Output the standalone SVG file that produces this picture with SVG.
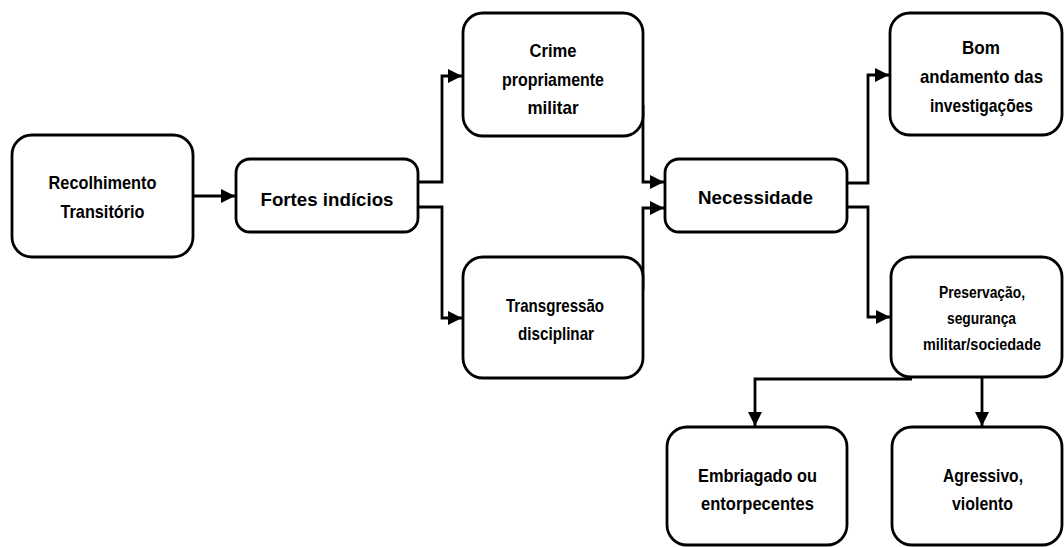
<svg xmlns="http://www.w3.org/2000/svg" width="1064" height="547" viewBox="0 0 1064 547">
<style>
.box{fill:#fff;stroke:#000;stroke-width:2.8}
.t{font-family:"Liberation Sans",Arial,sans-serif;font-weight:bold;font-size:19px;fill:#000;text-anchor:middle}
.s{font-size:16px}
.c{fill:none;stroke:#000;stroke-width:2.8}
</style>
<defs>
<marker id="ah" viewBox="0 0 14 14" refX="14" refY="7" markerWidth="14" markerHeight="14" markerUnits="userSpaceOnUse" orient="auto">
<path d="M0,0 L14,7 L0,14 Z" fill="#000"/>
</marker>
</defs>
<rect width="1064" height="547" fill="#fff"/>
<g id="connectors">
<path class="c" d="M193,196 H235" marker-end="url(#ah)"/>
<path class="c" d="M418,182 H442 V76 H462" marker-end="url(#ah)"/>
<path class="c" d="M418,207 H442 V318 H462" marker-end="url(#ah)"/>
<path class="c" d="M643,105 V182 H664" marker-end="url(#ah)"/>
<path class="c" d="M643,290 V208 H664" marker-end="url(#ah)"/>
<path class="c" d="M847,183 H868 V75 H889" marker-end="url(#ah)"/>
<path class="c" d="M847,207 H868 V317 H890" marker-end="url(#ah)"/>
<path class="c" d="M912,379 H755 V426" marker-end="url(#ah)"/>
<path class="c" d="M982,377 V426" marker-end="url(#ah)"/>
</g>
<g id="recolhimento">
<rect class="box" x="12" y="135" width="181" height="122" rx="20"/>
<text class="t" x="102.5" y="189" textLength="108" lengthAdjust="spacingAndGlyphs">Recolhimento</text>
<text class="t" x="102.5" y="218" textLength="84" lengthAdjust="spacingAndGlyphs">Transitório</text>
</g>
<g id="fortes">
<rect class="box" x="236" y="159" width="182" height="73" rx="14"/>
<text class="t" x="327" y="206" textLength="133" lengthAdjust="spacingAndGlyphs">Fortes indícios</text>
</g>
<g id="crime">
<rect class="box" x="463" y="13" width="180" height="123" rx="20"/>
<text class="t" x="553" y="57" textLength="47" lengthAdjust="spacingAndGlyphs">Crime</text>
<text class="t" x="553" y="86" textLength="102" lengthAdjust="spacingAndGlyphs">propriamente</text>
<text class="t" x="553" y="114" textLength="51" lengthAdjust="spacingAndGlyphs">militar</text>
</g>
<g id="transgressao">
<rect class="box" x="463" y="257" width="180" height="121" rx="20"/>
<text class="t" x="555" y="312" textLength="98" lengthAdjust="spacingAndGlyphs">Transgressão</text>
<text class="t" x="556" y="340" textLength="76" lengthAdjust="spacingAndGlyphs">disciplinar</text>
</g>
<g id="necessidade">
<rect class="box" x="665" y="159" width="182" height="73" rx="14"/>
<text class="t" x="755.5" y="204" textLength="115" lengthAdjust="spacingAndGlyphs">Necessidade</text>
</g>
<g id="bom">
<rect class="box" x="890" y="13" width="172" height="122" rx="20"/>
<text class="t" x="981" y="54" textLength="38" lengthAdjust="spacingAndGlyphs">Bom</text>
<text class="t" x="981.5" y="83" textLength="123" lengthAdjust="spacingAndGlyphs">andamento das</text>
<text class="t" x="981.5" y="112" textLength="103" lengthAdjust="spacingAndGlyphs">investigações</text>
</g>
<g id="preservacao">
<rect class="box" x="891" y="257" width="171" height="120" rx="20"/>
<text class="t s" x="982" y="298" textLength="86" lengthAdjust="spacingAndGlyphs">Preservação,</text>
<text class="t s" x="981.5" y="324" textLength="69" lengthAdjust="spacingAndGlyphs">segurança</text>
<text class="t s" x="982" y="350" textLength="118" lengthAdjust="spacingAndGlyphs">militar/sociedade</text>
</g>
<g id="embriagado">
<rect class="box" x="667" y="427" width="180" height="118" rx="20"/>
<text class="t" x="757.5" y="482" textLength="119" lengthAdjust="spacingAndGlyphs">Embriagado ou</text>
<text class="t" x="757.5" y="510" textLength="113" lengthAdjust="spacingAndGlyphs">entorpecentes</text>
</g>
<g id="agressivo">
<rect class="box" x="892" y="427" width="170" height="118" rx="20"/>
<text class="t" x="983" y="482" textLength="80" lengthAdjust="spacingAndGlyphs">Agressivo,</text>
<text class="t" x="982.5" y="510" textLength="61" lengthAdjust="spacingAndGlyphs">violento</text>
</g>
</svg>
